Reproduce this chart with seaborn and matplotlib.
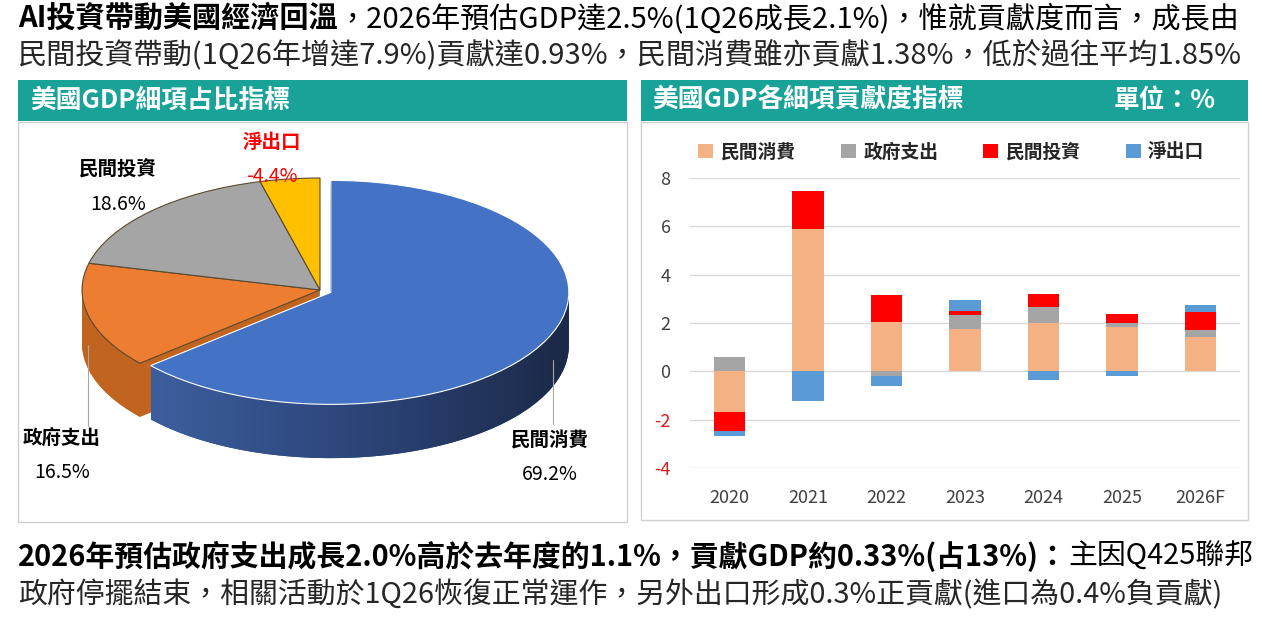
import numpy as np
import seaborn as sns
import matplotlib.pyplot as plt
from matplotlib.patches import Rectangle, Patch, Polygon
from matplotlib.colors import LinearSegmentedColormap
from matplotlib.lines import Line2D

# --- data ---
years = ["2020", "2021", "2022", "2023", "2024", "2025", "2026F"]
series_names = ["民間消費", "政府支出", "民間投資", "淨出口"]
consumption = [-1.67, 5.88, 2.04, 1.75, 2.00, 1.82, 1.42]
government = [0.58, 0.00, -0.21, 0.58, 0.66, 0.18, 0.28]
investment = [-0.81, 1.57, 1.12, 0.15, 0.54, 0.39, 0.76]
net_exports = [-0.18, -1.23, -0.39, 0.47, -0.34, -0.21, 0.30]

pie_labels = ["民間消費", "政府支出", "民間投資", "淨出口"]
pie_shares = [69.2, 16.5, 18.6, -4.4]

bar_colors = ["#F4B183", "#A5A5A5", "#FF0000", "#5B9BD5"]
pie_top = ["#4472C4", "#ED7D31", "#A5A5A5", "#FFC000"]
pie_side = ["#2C4676", "#C0641F", "#7F7F7F", "#C79500"]
teal = "#18A298"

sns.set_theme(style="white")
plt.rcParams["font.family"] = ["Noto Sans CJK TC", "DejaVu Sans"]
plt.rcParams["axes.unicode_minus"] = False

W, H = 1285, 626
fig = plt.figure(figsize=(W / 100, H / 100), dpi=100)
renderer = fig.canvas.get_renderer()


def fx(px):
    return px / W


def fy(py):
    return 1 - py / H


def mixed_line(x, y, bold_part, normal_part, size):
    t1 = fig.text(fx(x), fy(y), bold_part, fontsize=size, fontweight="bold",
                  color="black", va="center", ha="left")
    x_end = t1.get_window_extent(renderer).x1
    fig.text(x_end / W, fy(y), normal_part, fontsize=size, color="black",
             va="center", ha="left")


# --- header texts ---
mixed_line(18, 19, "AI投資帶動美國經濟回溫",
           "，2026年預估GDP達2.5%(1Q26成長2.1%)，惟就貢獻度而言，成長由", 21)
fig.text(fx(18), fy(56), "民間投資帶動(1Q26年增達7.9%)貢獻達0.93%，民間消費雖亦貢獻1.38%，低於過往平均1.85%",
         fontsize=21, va="center", ha="left")

# --- bottom texts ---
mixed_line(18, 556, "2026年預估政府支出成長2.0%高於去年度的1.1%，貢獻GDP約0.33%(占13%)：",
           "主因Q425聯邦", 20.8)
fig.text(fx(18), fy(595), "政府停擺結束，相關活動於1Q26恢復正常運作，另外出口形成0.3%正貢獻(進口為0.4%負貢獻)",
         fontsize=20.8, va="center", ha="left")

# --- panel frames and headers ---
for x0, x1, y1 in [(18, 627, 522), (641, 1248, 520)]:
    fig.patches.append(Rectangle((fx(x0), fy(y1)), fx(x1 - x0), (y1 - 122) / H,
                                 transform=fig.transFigure, facecolor="white",
                                 edgecolor="#D0D0D0", lw=1, zorder=-2))
    fig.patches.append(Rectangle((fx(x0), fy(121)), fx(x1 - x0), 41 / H,
                                 transform=fig.transFigure, facecolor=teal,
                                 edgecolor="none", zorder=-2))
fig.text(fx(30), fy(100), "美國GDP細項占比指標", color="white", fontsize=18.5,
         fontweight="bold", va="center")
fig.text(fx(652), fy(100), "美國GDP各細項貢獻度指標", color="white", fontsize=18.5,
         fontweight="bold", va="center")
fig.text(fx(1216), fy(100), "單位：%", color="white", fontsize=18.5,
         fontweight="bold", va="center", ha="right")

# --- 3D-looking pie ---
pax = fig.add_axes([fx(18), fy(522), fx(609), 400 / H])
sizes = np.abs(pie_shares)
explode = [0.05, 0, 0, 0]
depth = 0.48
for k in np.linspace(depth, 0.01, 45):
    pax.pie(sizes, colors=pie_side, startangle=90, counterclock=False,
            explode=explode, center=(0, -k), wedgeprops=dict(linewidth=0))
wedges, _ = pax.pie(sizes, colors=pie_top, startangle=90, counterclock=False,
                    explode=explode,
                    wedgeprops=dict(linewidth=0.8, edgecolor="#5A4A30", zorder=3))
wedges[0].set_edgecolor("white")

# shaded front wall of the big slice
span = 360 * sizes[0] / sizes.sum()
t0 = np.deg2rad(90 - span)
mid = np.deg2rad(90 - span / 2)
ox, oy = explode[0] * np.cos(mid), explode[0] * np.sin(mid)
tt = np.linspace(t0, 0, 120)
top_arc = np.column_stack([ox + np.cos(tt), oy + np.sin(tt)])
bot_arc = top_arc[::-1] - [0, depth]
wall = Polygon(np.vstack([top_arc, bot_arc]), closed=True, transform=pax.transData,
               facecolor="none", edgecolor="none")
pax.add_patch(wall)
shade = LinearSegmentedColormap.from_list("shade", ["#3D5E9E", "#2C4579", "#1B2947"])
img = pax.imshow(np.linspace(0, 1, 256)[None, :], cmap=shade, aspect="auto",
                 extent=(ox + np.cos(t0), ox + 1, -1.6, 0.1), zorder=2)
img.set_clip_path(wall)

pax.set_aspect("auto")
pax.set_xlim(-1.269, 1.290)
pax.set_ylim(-2.071, 1.5)
pax.axis("off")

pie_label_pos = [(550, 440), (62, 438), (118, 170), (272, 142)]
for name, val, (lx, ly) in zip(pie_labels, pie_shares, pie_label_pos):
    c = "#FF0000" if val < 0 else "black"
    fig.text(fx(lx), fy(ly), name, fontsize=14, fontweight="bold", color=c,
             ha="center", va="center")
    fig.text(fx(lx), fy(ly + 34), f"{val:.1f}%", fontsize=14, color=c,
             ha="center", va="center")
for x, y0, y1 in [(553, 360, 424), (88, 345, 426)]:
    fig.lines.append(Line2D([fx(x), fx(x)], [fy(y0), fy(y1)], color="#A6A6A6",
                            lw=0.8, transform=fig.transFigure))

# --- stacked contribution bars ---
ax = fig.add_axes([fx(690), fy(468), fx(550), 290 / H])
vals = np.array([consumption, government, investment, net_exports])
pos_cum = np.cumsum(np.clip(vals, 0, None), axis=0)
neg_cum = np.cumsum(np.clip(vals, None, 0), axis=0)
for i in reversed(range(len(series_names))):
    sns.barplot(x=years, y=pos_cum[i], color=bar_colors[i], width=0.4,
                saturation=1, linewidth=0, ax=ax, order=years)
    sns.barplot(x=years, y=neg_cum[i], color=bar_colors[i], width=0.4,
                saturation=1, linewidth=0, ax=ax, order=years)

ax.set_ylim(-4, 8)
ax.set_xlim(-0.5, 6.5)
ax.set_yticks(range(-4, 10, 2))
ax.yaxis.grid(True, color="#D9D9D9", lw=1)
ax.set_axisbelow(True)
sns.despine(ax=ax, left=True, bottom=True)
ax.tick_params(axis="both", length=0, labelsize=13, labelcolor="#404040")
ax.tick_params(axis="x", pad=15)
ax.tick_params(axis="y", pad=14)
for lab in ax.get_yticklabels():
    if lab.get_text().startswith("-"):
        lab.set_color("#D62020")
ax.set_xlabel("")
ax.set_ylabel("")

handles = [Patch(facecolor=c, edgecolor="none") for c in bar_colors]
leg = ax.legend(handles, series_names, loc="center", bbox_to_anchor=(0.475, 1.09),
                ncol=4, frameon=False, handlelength=0.8, handleheight=0.8,
                handletextpad=0.4, columnspacing=2.4,
                prop=dict(size=13.5, weight="bold"))

fig.savefig("out.png", dpi=100)
